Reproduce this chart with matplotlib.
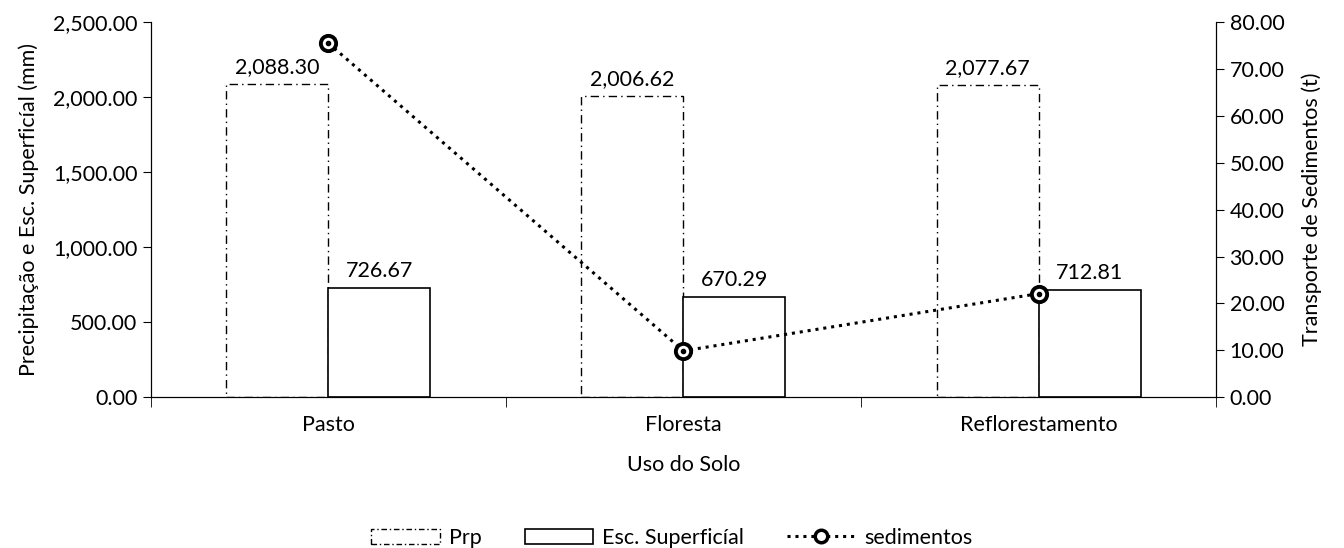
import numpy as np
import matplotlib.pyplot as plt
from matplotlib.patches import Patch
from matplotlib.lines import Line2D
from matplotlib.ticker import FuncFormatter

plt.rcParams['font.family'] = ['Lato', 'DejaVu Sans']
plt.rcParams['font.size'] = 15.5

# Data
categorias = ["Pasto", "Floresta", "Reflorestamento"]
prp = [2088.30, 2006.62, 2077.67]
esc = [726.67, 670.29, 712.81]
sedimentos = [75.5, 9.9, 22.1]

x = np.arange(len(categorias))
w = 0.287

fig, ax = plt.subplots(figsize=(13.44, 5.48), dpi=100)
fig.subplots_adjust(left=0.112, right=0.905, top=0.96, bottom=0.275)

b1 = ax.bar(x - w / 2, prp, w, facecolor="white", edgecolor="black",
            linestyle=(0, (6, 3, 1, 3)), linewidth=1.0)
b2 = ax.bar(x + w / 2, esc, w, facecolor="white", edgecolor="black", linewidth=1.2)

for i in range(len(x)):
    ax.annotate(f"{prp[i]:,.2f}", (x[i] - w / 2, prp[i]), xytext=(0, 5),
                textcoords="offset points", ha="center", va="bottom")
    ax.annotate(f"{esc[i]:,.2f}", (x[i] + w / 2, esc[i]), xytext=(0, 5),
                textcoords="offset points", ha="center", va="bottom")

ax.set_xlim(-0.5, 2.5)
ax.set_ylim(0, 2500)
ax.set_yticks(np.arange(0, 2501, 500))
ax.yaxis.set_major_formatter(FuncFormatter(lambda v, p: f"{v:,.2f}"))
ax.set_xticks(x)
ax.set_xticklabels(categorias)
ax.set_xticks([-0.5, 0.5, 1.5, 2.5], minor=True)
ax.tick_params(axis="x", which="major", length=0, pad=13)
ax.tick_params(axis="x", which="minor", length=7, direction="out")
ax.tick_params(axis="y", length=6, direction="out")
ax.set_xlabel("Uso do Solo", labelpad=14)
ax.set_ylabel("Precipitação e Esc. Superficíal (mm)", labelpad=10)
ax.spines["top"].set_visible(False)

ax2 = ax.twinx()
ax2.plot(x, sedimentos, color="black", linestyle=(0, (1, 1.6)), linewidth=2.2,
         marker="o", markersize=11, markerfacecolor="white",
         markeredgecolor="black", markeredgewidth=2.8, zorder=5)
ax2.plot(x, sedimentos, linestyle="none", marker="o", markersize=3,
         color="black", zorder=6)
ax2.set_ylim(0, 80)
ax2.set_yticks(np.arange(0, 81, 10))
ax2.yaxis.set_major_formatter(FuncFormatter(lambda v, p: f"{v:,.2f}"))
ax2.tick_params(axis="y", length=6, direction="out")
ax2.set_ylabel("Transporte de Sedimentos (t)", labelpad=12)
ax2.spines["top"].set_visible(False)

handles = [
    Patch(facecolor="white", edgecolor="black", linestyle=(0, (4, 2, 1, 2)), linewidth=1.0),
    Patch(facecolor="white", edgecolor="black", linewidth=1.2),
    Line2D([], [], color="black", linestyle=(0, (1, 1.6)), linewidth=2.2,
           marker="o", markersize=9, markerfacecolor="white", markeredgewidth=2.5),
]
fig.legend(handles, ["Prp", "Esc. Superficíal", "sedimentos"], loc="lower center",
           ncol=3, frameon=False, bbox_to_anchor=(0.5, -0.035), columnspacing=2.0,
           handlelength=3.2, handletextpad=0.4)

fig.savefig("out.png", dpi=100)
